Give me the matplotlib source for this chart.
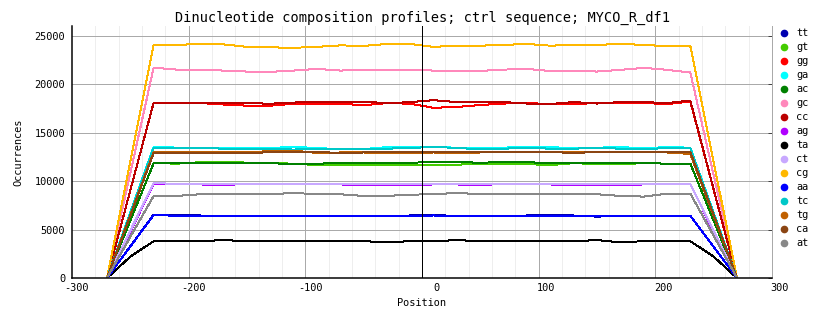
import matplotlib
matplotlib.use("Agg")
import matplotlib.pyplot as plt
from matplotlib.lines import Line2D
from matplotlib.transforms import offset_copy

# positions along the sequence (bp relative to centre)
positions = [-270, -250, -230, -210, -190, -170, -150, -130, -110, -90, -70, -50,
             -30, -10, 10, 30, 50, 70, 90, 110, 130, 150, 170, 190, 210, 230,
             250, 270]

# dinucleotide counts per position
tt = [0, 3270, 6550, 6450, 6450, 6380, 6400, 6420, 6380, 6420, 6420, 6420,
      6420, 6450, 6480, 6420, 6420, 6400, 6450, 6480, 6450, 6330, 6420, 6420,
      6420, 6420, 3210, 0]
gt = [0, 5920, 11850, 11800, 11950, 12000, 11900, 11850, 11800, 11650, 11700, 11700,
      11700, 11700, 11700, 11700, 11750, 11750, 11750, 11650, 11850, 11750, 11750, 11850,
      11800, 11800, 5900, 0]
gg = [0, 9050, 18100, 18100, 18050, 17900, 17780, 17780, 17980, 17980, 17980, 17830,
      18050, 17980, 17560, 17650, 17850, 18000, 18050, 17950, 17950, 18050, 18050, 18050,
      17950, 18200, 9100, 0]
ga = [0, 6780, 13550, 13450, 13450, 13400, 13400, 13400, 13550, 13400, 13300, 13300,
      13500, 13550, 13500, 13450, 13400, 13450, 13550, 13500, 13400, 13450, 13500, 13400,
      13500, 13450, 6720, 0]
ac = [0, 5920, 11850, 11850, 11850, 11900, 11850, 11850, 11750, 11800, 11850, 11850,
      11850, 11900, 11950, 11950, 11900, 11950, 11950, 11850, 11850, 11850, 11850, 11850,
      11800, 11800, 5900, 0]
gc = [0, 10850, 21700, 21500, 21480, 21400, 21300, 21270, 21400, 21580, 21400, 21480,
      21480, 21480, 21400, 21370, 21370, 21500, 21580, 21350, 21370, 21300, 21480, 21680,
      21480, 21200, 10600, 0]
cc = [0, 9050, 18100, 18100, 18100, 18080, 18050, 17980, 18100, 18210, 18210, 18210,
      18020, 18150, 18350, 18150, 18150, 18150, 18000, 17950, 18150, 18000, 18150, 18150,
      18050, 18300, 9150, 0]
ag = [0, 4820, 9650, 9650, 9650, 9600, 9700, 9750, 9700, 9650, 9650, 9600,
      9600, 9600, 9650, 9650, 9600, 9700, 9700, 9650, 9550, 9550, 9600, 9650,
      9650, 9650, 4820, 0]
ta = [0, 2200, 3800, 3800, 3800, 3910, 3800, 3800, 3800, 3800, 3800, 3800,
      3680, 3800, 3800, 3910, 3800, 3800, 3800, 3800, 3800, 3910, 3680, 3800,
      3800, 3800, 2200, 0]
ct = [0, 4900, 9800, 9700, 9700, 9650, 9650, 9700, 9650, 9700, 9650, 9650,
      9700, 9700, 9700, 9650, 9650, 9700, 9700, 9700, 9700, 9650, 9700, 9750,
      9700, 9700, 4850, 0]
cg = [0, 12020, 24050, 24050, 24150, 24100, 23850, 23800, 23750, 23850, 24000, 23950,
      24150, 24150, 23850, 23970, 23970, 24050, 24150, 23970, 24050, 24050, 24150, 24050,
      23920, 23920, 11960, 0]
aa = [0, 3250, 6500, 6420, 6400, 6350, 6380, 6420, 6400, 6400, 6420, 6400,
      6400, 6420, 6450, 6400, 6380, 6420, 6400, 6400, 6420, 6420, 6400, 6380,
      6400, 6420, 3210, 0]
tc = [0, 6720, 13450, 13400, 13400, 13350, 13350, 13350, 13250, 13350, 13350, 13350,
      13350, 13400, 13550, 13400, 13300, 13350, 13400, 13350, 13350, 13400, 13350, 13300,
      13400, 13400, 6700, 0]
tg = [0, 6500, 13000, 13050, 13000, 13000, 12950, 13100, 13150, 12900, 12950, 12950,
      12900, 12900, 12950, 12900, 12950, 12950, 12950, 12950, 12950, 12950, 12950, 13000,
      12950, 12800, 6400, 0]
ca = [0, 6450, 12900, 12900, 12850, 12850, 12850, 13000, 13050, 13000, 12900, 12950,
      13000, 13050, 13050, 13000, 12950, 13000, 13000, 13000, 12900, 13000, 13000, 13000,
      13050, 13000, 6500, 0]
at = [0, 4240, 8470, 8470, 8640, 8640, 8640, 8640, 8780, 8640, 8640, 8470,
      8470, 8600, 8640, 8780, 8640, 8640, 8700, 8640, 8640, 8640, 8470, 8400,
      8700, 8700, 4350, 0]

labels = ["tt", "gt", "gg", "ga", "ac", "gc", "cc", "ag",
          "ta", "ct", "cg", "aa", "tc", "tg", "ca", "at"]
series = [tt, gt, gg, ga, ac, gc, cc, ag, ta, ct, cg, aa, tc, tg, ca, at]
colors = ["#0000b0", "#44cc00", "#ff0000", "#00ffff", "#008000", "#ff88bb",
          "#bb0000", "#b000ff", "#000000", "#c8a8ff", "#ffb800", "#0000ff",
          "#00c8c8", "#c06000", "#8b4513", "#888888"]

xticks = [-300, -200, -100, 0, 100, 200, 300]
yticks = [0, 5000, 10000, 15000, 20000, 25000]

W, H = 834, 328
PX = 0.72  # one pixel in points at 100 dpi
fig = plt.figure(figsize=(W / 100, H / 100), dpi=100)
ax = fig.add_axes([72 / W, 1 - 278 / H, 700 / W, 252 / H])

ax.set_xlim(-300, 300)
ax.set_ylim(0, 26000)

# grid: light every 20 bp, darker every 100 bp and every 5000 counts
for x in range(-280, 300, 20):
    if x % 100 != 0:
        ax.axvline(x, color="#eeeeee", lw=PX, zorder=0, antialiased=False)
for x in xticks[1:-1]:
    ax.axvline(x, color="#aaaaaa", lw=PX, zorder=0.5, antialiased=False)
for y in yticks[1:]:
    ax.axhline(y, color="#aaaaaa", lw=PX, zorder=0.5, antialiased=False)
ax.axvline(0, color="black", lw=PX, zorder=3, antialiased=False)

for vals, c in zip(series, colors):
    ax.plot(positions, vals, color=c, lw=PX, zorder=2, antialiased=False)

ax.spines["top"].set_visible(False)
ax.spines["right"].set_color("#aaaaaa")
ax.spines["right"].set_linewidth(PX)
ax.spines["left"].set_color("black")
ax.spines["left"].set_linewidth(PX * 1.5)
ax.spines["bottom"].set_color("black")
ax.spines["bottom"].set_linewidth(PX * 1.5)

font = "DejaVu Sans Mono"
ax.set_yticks(yticks)
ax.set_yticklabels([str(v) for v in yticks], fontsize=7.4, family=font)
ax.tick_params(axis="y", left=False, right=True, direction="in", length=3,
               width=PX, color="#444444", pad=5)
ax.set_xticks(xticks)
ax.set_xticklabels([])
ax.tick_params(axis="x", bottom=False, length=0)

xlab_tr = offset_copy(ax.get_xaxis_transform(), fig=fig, x=17, y=-10, units="dots")
for v in xticks:
    ax.text(v, 0, str(v), transform=xlab_tr, ha="right", va="center",
            fontsize=7.4, family=font)

fig.text(421.5 / W, 1 - 303 / H, "Position", ha="center", va="center",
         fontsize=7.4, family=font)
fig.text(18 / W, 1 - 152 / H, "Occurrences", ha="center", va="center",
         rotation=90, fontsize=7.4, family=font)
fig.text(422.5 / W, 1 - 18 / H,
         "Dinucleotide composition profiles; ctrl sequence; MYCO_R_df1",
         ha="center", va="center", fontsize=9.8, family=font)

# legend column on the right
for i, (lab, c) in enumerate(zip(labels, colors)):
    yy = 1 - (33.3 + i * 13.96) / H
    fig.add_artist(Line2D([784 / W], [yy], marker="o", markersize=4.5,
                          color=c, linestyle="none", transform=fig.transFigure))
    fig.text(796 / W, yy, lab, ha="left", va="center", fontsize=7.4, family=font)

fig.savefig("out.png", dpi=100)
